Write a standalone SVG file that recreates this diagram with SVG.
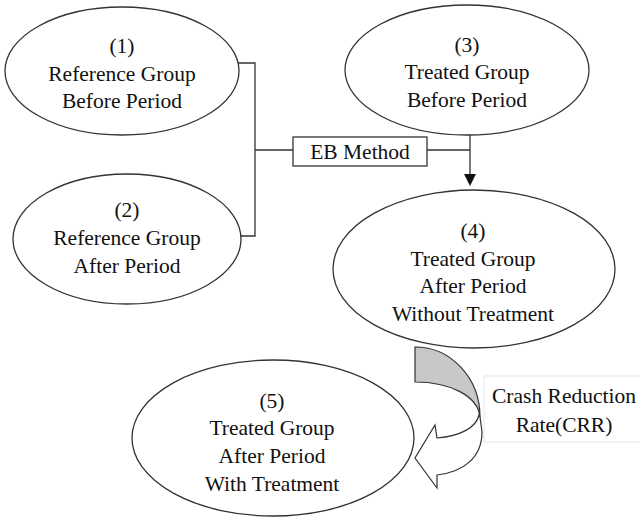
<svg xmlns="http://www.w3.org/2000/svg" width="640" height="518" viewBox="0 0 640 518">
<style>
.n{fill:#fff;stroke:#333;stroke-width:1.3}
.t{font-family:'Liberation Serif','Times New Roman',serif;font-size:21.5px;fill:#111;text-anchor:middle}
.c{fill:none;stroke:#333;stroke-width:1.3}
</style>
<rect width="640" height="518" fill="#fff"/>
<g id="connectors">
<path class="c" d="M238,63 H255 V236 H240 M255,150 H293"/>
<path class="c" d="M427,150 H470 M470,135 V176"/>
<polygon points="464,174 476,174 470,186" fill="#111"/>
</g>
<g id="n1">
<ellipse class="n" cx="122" cy="71" rx="117" ry="64"/>
<text class="t" x="122" y="53">(1)</text>
<text class="t" x="122" y="81">Reference Group</text>
<text class="t" x="122" y="108">Before Period</text>
</g>
<g id="n2">
<ellipse class="n" cx="127" cy="239" rx="114" ry="65"/>
<text class="t" x="127" y="217">(2)</text>
<text class="t" x="127" y="245">Reference Group</text>
<text class="t" x="127" y="273">After Period</text>
</g>
<g id="n3">
<ellipse class="n" cx="467" cy="70" rx="122" ry="65"/>
<text class="t" x="467" y="52">(3)</text>
<text class="t" x="467" y="79">Treated Group</text>
<text class="t" x="467" y="107">Before Period</text>
</g>
<g id="eb">
<rect x="293" y="137" width="134" height="29" fill="#fff" stroke="#333" stroke-width="1.3"/>
<text class="t" x="360" y="159">EB Method</text>
</g>
<g id="n4">
<ellipse class="n" cx="474" cy="269" rx="141" ry="79"/>
<text class="t" x="473" y="238">(4)</text>
<text class="t" x="473" y="266">Treated Group</text>
<text class="t" x="473" y="293">After Period</text>
<text class="t" x="473" y="321">Without Treatment</text>
</g>
<g id="n5">
<ellipse class="n" cx="273" cy="438" rx="141" ry="78"/>
<text class="t" x="272" y="408">(5)</text>
<text class="t" x="272" y="435">Treated Group</text>
<text class="t" x="272" y="463">After Period</text>
<text class="t" x="272" y="491">With Treatment</text>
</g>
<g id="crr-arrow">
<path d="M415,347 C451,347 480,378 480,417 C478,396 450,382 415,382 Z" fill="#c8c8c8" stroke="#333" stroke-width="1.2"/>
<path d="M479,415 C476,428 460,436 437,438 L435,425 L415,458 L437,488 L437,475 C463,472 482,458 482,432 L480,417 Z" fill="#fff" stroke="#333" stroke-width="1.2"/>
</g>
<g id="crr">
<rect x="484" y="376" width="160" height="66" fill="#fff" stroke="#e6e6e6" stroke-width="1"/>
<text class="t" x="564" y="403">Crash Reduction</text>
<text class="t" x="564" y="432">Rate(CRR)</text>
</g>
</svg>
